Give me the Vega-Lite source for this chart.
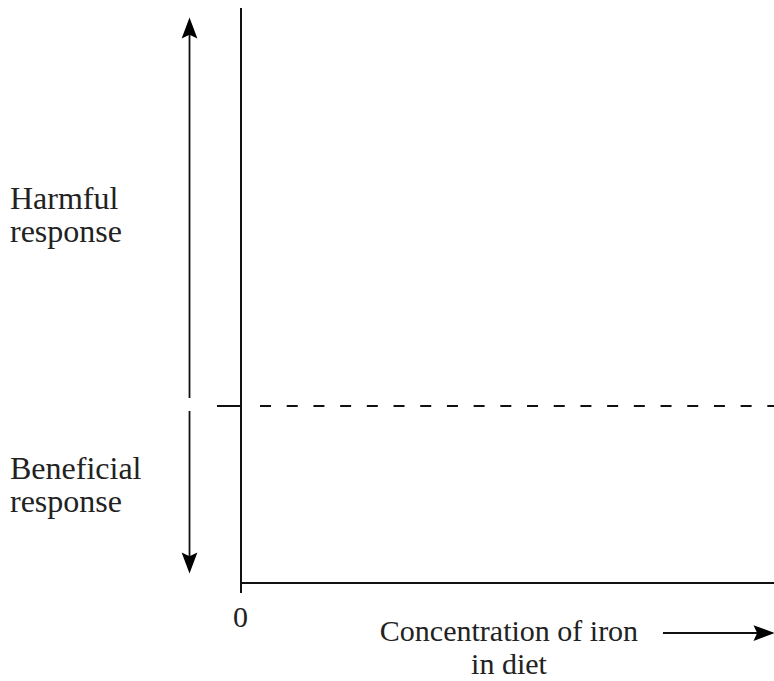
{
  "$schema": "https://vega.github.io/schema/vega-lite/v6.json",
  "width": 774,
  "height": 681,
  "autosize": {"type": "none"},
  "padding": 0,
  "background": "white",
  "config": {"view": {"stroke": null}},
  "datasets": {
    "segments": [
      {"part": "y axis", "x1": 0, "x2": 0, "y1": 2.2486, "y2": -1.0565, "style": "solid"},
      {"part": "x axis", "x1": 0, "x2": 1.01, "y1": -1, "y2": -1, "style": "solid"},
      {"part": "baseline stub", "x1": -0.045, "x2": 0, "y1": 0, "y2": 0, "style": "solid"},
      {"part": "harmful arrow", "x1": -0.0966, "x2": -0.0966, "y1": 0.0452, "y2": 2.13, "style": "solid"},
      {"part": "beneficial arrow", "x1": -0.0966, "x2": -0.0966, "y1": -0.0282, "y2": -0.88, "style": "solid"},
      {"part": "concentration arrow", "x1": 0.7917, "x2": 0.985, "y1": -1.2825, "y2": -1.2825, "style": "solid"},
      {"part": "no effect line", "x1": 0.0357, "x2": 1.01, "y1": 0, "y2": 0, "style": "dashed"}
    ],
    "heads": [
      {"part": "harmful head", "x": -0.0966, "y": 2.1356, "dir": "up"},
      {"part": "beneficial head", "x": -0.0966, "y": -0.887, "dir": "down"},
      {"part": "concentration head", "x": 0.9812, "y": -1.2825, "dir": "right"}
    ],
    "labels": [
      {"text": "Harmful", "x": -0.4334, "y": 1.113, "align": "left"},
      {"text": "response", "x": -0.4334, "y": 0.9266, "align": "left"},
      {"text": "Beneficial", "x": -0.4334, "y": -0.4124, "align": "left"},
      {"text": "response", "x": -0.4334, "y": -0.5989, "align": "left"},
      {"text": "0", "x": -0.001, "y": -1.2486, "align": "center"},
      {"text": "Concentration of iron", "x": 0.5028, "y": -1.3249, "align": "center"},
      {"text": "in diet", "x": 0.5028, "y": -1.5141, "align": "center"}
    ]
  },
  "layer": [
    {
      "data": {"name": "segments"},
      "transform": [{"filter": "datum.style === 'solid' && datum.part !== 'harmful arrow' && datum.part !== 'beneficial arrow' && datum.part !== 'concentration arrow'"}],
      "mark": {"type": "rule", "color": "#111", "strokeWidth": 2},
      "encoding": {
        "x": {"field": "x1", "type": "quantitative", "scale": {"domain": [-0.45216, 1], "zero": false, "nice": false}, "axis": null},
        "x2": {"field": "x2"},
        "y": {"field": "y1", "type": "quantitative", "scale": {"domain": [-1.55367, 2.29379], "zero": false, "nice": false}, "axis": null},
        "y2": {"field": "y2"}
      }
    },
    {
      "data": {"name": "segments"},
      "transform": [{"filter": "datum.part === 'harmful arrow' || datum.part === 'beneficial arrow' || datum.part === 'concentration arrow'"}],
      "mark": {"type": "rule", "color": "#111", "strokeWidth": 1.8},
      "encoding": {
        "x": {"field": "x1", "type": "quantitative"},
        "x2": {"field": "x2"},
        "y": {"field": "y1", "type": "quantitative"},
        "y2": {"field": "y2"}
      }
    },
    {
      "data": {"name": "segments"},
      "transform": [{"filter": "datum.style === 'dashed'"}],
      "mark": {"type": "rule", "color": "#111", "strokeWidth": 2, "strokeDash": [11, 15.7]},
      "encoding": {
        "x": {"field": "x1", "type": "quantitative"},
        "x2": {"field": "x2"},
        "y": {"field": "y1", "type": "quantitative"},
        "y2": {"field": "y2"}
      }
    },
    {
      "data": {"name": "heads"},
      "transform": [{"filter": "datum.dir === 'up'"}],
      "mark": {"type": "point", "shape": "M0,-1L0.75,1L0,0.65L-0.75,1Z", "filled": true, "color": "#000", "opacity": 1, "size": 441, "angle": 0},
      "encoding": {"x": {"field": "x", "type": "quantitative"}, "y": {"field": "y", "type": "quantitative"}}
    },
    {
      "data": {"name": "heads"},
      "transform": [{"filter": "datum.dir === 'down'"}],
      "mark": {"type": "point", "shape": "M0,-1L0.75,1L0,0.65L-0.75,1Z", "filled": true, "color": "#000", "opacity": 1, "size": 441, "angle": 180},
      "encoding": {"x": {"field": "x", "type": "quantitative"}, "y": {"field": "y", "type": "quantitative"}}
    },
    {
      "data": {"name": "heads"},
      "transform": [{"filter": "datum.dir === 'right'"}],
      "mark": {"type": "point", "shape": "M0,-1L0.75,1L0,0.65L-0.75,1Z", "filled": true, "color": "#000", "opacity": 1, "size": 441, "angle": 90},
      "encoding": {"x": {"field": "x", "type": "quantitative"}, "y": {"field": "y", "type": "quantitative"}}
    },
    {
      "data": {"name": "labels"},
      "transform": [{"filter": "datum.align === 'left'"}],
      "mark": {"type": "text", "align": "left", "baseline": "alphabetic", "font": "Liberation Serif", "fontSize": 32, "color": "#222"},
      "encoding": {"x": {"field": "x", "type": "quantitative"}, "y": {"field": "y", "type": "quantitative"}, "text": {"field": "text"}}
    },
    {
      "data": {"name": "labels"},
      "transform": [{"filter": "datum.align === 'center'"}],
      "mark": {"type": "text", "align": "center", "baseline": "alphabetic", "font": "Liberation Serif", "fontSize": 30, "color": "#222"},
      "encoding": {"x": {"field": "x", "type": "quantitative"}, "y": {"field": "y", "type": "quantitative"}, "text": {"field": "text"}}
    }
  ]
}
